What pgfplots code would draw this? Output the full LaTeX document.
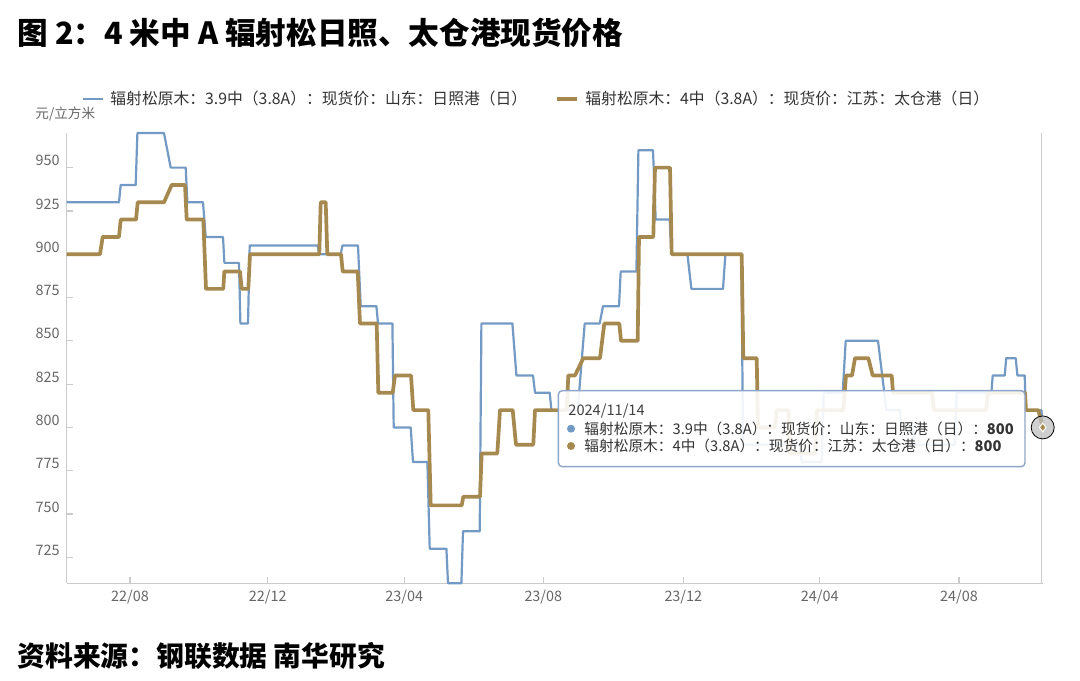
\documentclass[border=0pt]{standalone}
\usepackage{fontspec}
\setmainfont{Noto Sans CJK SC}
\usepackage{pgfplots}
\usepackage{pgfplotstable}
\pgfplotsset{compat=1.18}

\definecolor{sblue}{RGB}{115,154,196}
\definecolor{sgold}{RGB}{166,137,78}
\definecolor{axgray}{RGB}{204,204,204}
\definecolor{txtgray}{RGB}{102,102,102}
\definecolor{tipedge}{RGB}{140,166,201}

% x = position along the (category) date axis, 0 = first day shown
% 3.9中（3.8A），山东日照港
\pgfplotstableread{
x y
0 930
52.3 930
54 940
69 940
70.7 970
97.3 970
104 950
119 950
120.7 930
136.3 930
139 910
156.3 910
157.7 895
172.3 895
173.7 860
181.3 860
183 905
251 905
252.5 900
274 900
275.7 905
291.3 905
294 870
309.7 870
311.3 860
325.7 860
327 800
344 800
346.3 780
360.7 780
363 730
379.7 730
381.3 710
394.7 710
396.3 740
413 740
414.7 860
445.7 860
449.7 830
466.3 830
468.3 820
483 820
484.7 810
511 810
518 860
533 860
536.3 870
552.3 870
554 890
569.7 890
571.7 960
586.3 960
589 920
603 920
604.7 900
620.7 900
624.7 880
656.3 880
658.7 900
674.7 900
676.3 790
733 790
735 780
755 780
757 820
776 820
779 850
811.3 850
819.7 810
833 810
835 800
846 800
848 790
888 790
890 820
924.7 820
926 830
938 830
939.5 840
949 840
950.7 830
958 830
959 810
974.7 810
976 800
}\rizhao

% 4中（3.8A），江苏太仓港
\pgfplotstableread{
x y
0 900
33.3 900
36 910
52.3 910
54 920
69.3 920
71 930
97.3 930
105 940
118.3 940
120 920
136.6 920
139.3 880
156.6 880
157.6 890
173.3 890
175 880
181.6 880
183.3 900
252.6 900
254 930
259 930
260.6 900
274.3 900
276 890
291 890
293.3 860
310 860
311.6 820
326 820
328.3 830
344.3 830
346.6 810
361.6 810
364 755
395 755
396.6 760
413.3 760
415 785
430.6 785
433.3 810
446 810
449.3 790
466.6 790
468.3 810
500 810
501.6 830
508.3 830
516.6 840
533.3 840
537.6 860
552.6 860
554.3 850
571 850
572.3 910
586.6 910
588.3 950
603.3 950
605 900
675 900
676.6 840
690 840
691.3 800
708.3 800
710 810
721.6 810
723.3 785
748.3 785
750.3 810
776.6 810
779.3 830
785.3 830
788.3 840
801.6 840
806 830
825 830
826.3 820
865.3 820
867.3 810
919.3 810
921.3 820
958.3 820
959.3 810
971.6 810
976 800
}\taicang

\begin{document}
\begin{tikzpicture}
\useasboundingbox (0,0) rectangle (540pt,340pt);
\begin{axis}[
  at={(33.35pt,48.35pt)}, anchor=south west,
  scale only axis, width=488pt, height=225.15pt,
  xmin=0, xmax=976, ymin=710, ymax=970,
  axis x line=bottom, axis y line=left,
  axis line style={axgray, line width=0.6pt, -},
  xtick={63.3,201,337.6,476.6,616.6,753,892.3},
  xticklabels={22/08,22/12,23/04,23/08,23/12,24/04,24/08},
  ytick={725,750,...,950},
  tick align=inside, major tick length=3pt,
  tick style={axgray, line width=0.6pt},
  ticklabel style={font=\fontsize{7.2}{8}\selectfont, text=txtgray},
  yticklabel style={yshift=3.5pt},
  /pgf/number format/assume math mode=true,
  clip=false,
]
\draw[axgray, line width=0.6pt] (axis cs:975,710) -- (axis cs:975,970);
\addplot[sblue, line width=1.1pt, line join=round, mark=none] table {\rizhao};
\addplot[sgold, line width=1.85pt, line join=round, mark=none] table {\taicang};
\addplot[only marks, mark=*, mark size=5.75pt,
  mark options={draw=none, fill=black!25, fill opacity=0.75}] coordinates {(976,800)};
\addplot[only marks, mark=diamond*, mark size=2.2pt,
  mark options={fill=sgold, draw=white, line width=0.5pt}] coordinates {(976,800)};
\end{axis}

\begin{scope}[shift={(0,340pt)}, x=0.5pt, y=-0.5pt]
  \node[anchor=west, inner sep=0, font=\fontsize{15.3}{18}\selectfont\bfseries]
    at (17,33) {图 2：4 米中 A 辐射松日照、太仓港现货价格};
  \node[anchor=west, inner sep=0, font=\fontsize{13.9}{16}\selectfont\bfseries]
    at (17,656) {资料来源：钢联数据 南华研究};
  % legend
  \draw[sblue, line width=1.2pt] (83,99) -- (103,99);
  \node[anchor=west, inner sep=0, font=\fontsize{7.9}{9}\selectfont, text=black!80]
    at (110,99) {辐射松原木：3.9中（3.8A）：现货价：山东：日照港（日）};
  \draw[sgold, line width=1.8pt] (557,99) -- (577,99);
  \node[anchor=west, inner sep=0, font=\fontsize{7.9}{9}\selectfont, text=black!80]
    at (585,99) {辐射松原木：4中（3.8A）：现货价：江苏：太仓港（日）};
  \node[anchor=west, inner sep=0, font=\fontsize{6.8}{8}\selectfont, text=txtgray]
    at (35,114) {元/立方米};
  % tooltip
  \draw[tipedge, line width=0.7pt, fill=white, fill opacity=0.9, rounded corners=2pt]
    (558.3,390.7) rectangle (1025,466.7);
  \node[anchor=west, inner sep=0, font=\fontsize{7.3}{9}\selectfont, text=black!75]
    at (568,410.7) {2024/11/14};
  \fill[sblue] (571,428.7) circle (2pt);
  \fill[sgold] (571,446) circle (2pt);
  \node[anchor=west, inner sep=0, font=\fontsize{7.35}{9}\selectfont, text=black!80]
    at (584,428.7) {辐射松原木：3.9中（3.8A）：现货价：山东：日照港（日）：\textbf{800}};
  \node[anchor=west, inner sep=0, font=\fontsize{7.35}{9}\selectfont, text=black!80]
    at (584,446) {辐射松原木：4中（3.8A）：现货价：江苏：太仓港（日）：\textbf{800}};
\end{scope}
\end{tikzpicture}
\end{document}
